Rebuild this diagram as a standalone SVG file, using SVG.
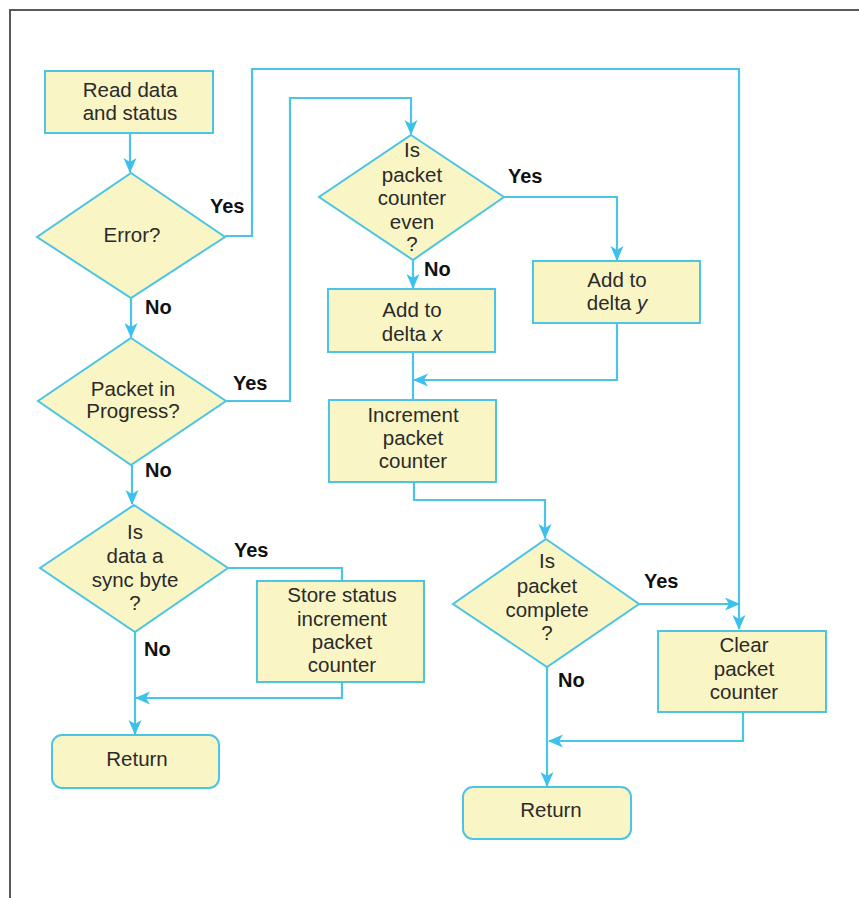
<svg xmlns="http://www.w3.org/2000/svg" width="859" height="898" viewBox="0 0 859 898">
<style>
.node{fill:#faf5c4;stroke:#4cc4e6;stroke-width:2}
.t{font-family:"Liberation Sans",Arial,sans-serif;font-size:20.5px;fill:#2a2a2a;text-anchor:middle}
.lbl{font-family:"Liberation Sans",Arial,sans-serif;font-size:20px;font-weight:bold;fill:#111}
.c{fill:none;stroke:#4cc4e6;stroke-width:2.2}
.frame{fill:none;stroke:#5a5a52;stroke-width:2}
</style>
<defs>
<marker id="arr" markerUnits="userSpaceOnUse" markerWidth="16" markerHeight="14" refX="14" refY="6.5" orient="auto">
<path d="M0,0 L15,6.5 L0,13 L4,6.5 z" fill="#3cc0ec"/>
</marker>
</defs>
<rect width="859" height="898" fill="#ffffff"/>
<path class="frame" d="M10,898 V10 H859"/>

<g id="connectors">
<path class="c" d="M130,133 V172" marker-end="url(#arr)"/>
<path class="c" d="M225,236 H252 V69 H739 V629" marker-end="url(#arr)"/>
<path class="c" d="M131,298 V337" marker-end="url(#arr)"/>
<path class="c" d="M226,401 H290 V98 H411 V134" marker-end="url(#arr)"/>
<path class="c" d="M132,465 V504" marker-end="url(#arr)"/>
<path class="c" d="M228,568 H342 V581"/>
<path class="c" d="M342,682 V698 H136" marker-end="url(#arr)"/>
<path class="c" d="M135,632 V734" marker-end="url(#arr)"/>
<path class="c" d="M504,197 H617 V260" marker-end="url(#arr)"/>
<path class="c" d="M413,260 V288" marker-end="url(#arr)"/>
<path class="c" d="M413,352 V400"/>
<path class="c" d="M617,323 V380 H414" marker-end="url(#arr)"/>
<path class="c" d="M414,482 V500 H545 V538" marker-end="url(#arr)"/>
<path class="c" d="M639,604 H739" marker-end="url(#arr)"/>
<path class="c" d="M743,712 V741 H549" marker-end="url(#arr)"/>
<path class="c" d="M547,667 V786" marker-end="url(#arr)"/>
</g>

<g id="read">
<rect class="node" x="45" y="71" width="168" height="62"/>
<text class="t" x="130" y="97">Read data</text>
<text class="t" x="130" y="120">and status</text>
</g>

<g id="error">
<polygon class="node" points="131,173 225,237 131,298 37,237"/>
<text class="t" x="132" y="242">Error?</text>
</g>

<g id="progress">
<polygon class="node" points="131,338 226,401 131,465 38,401"/>
<text class="t" x="133" y="396">Packet in</text>
<text class="t" x="133" y="418">Progress?</text>
</g>

<g id="sync">
<polygon class="node" points="134,505 228,568 135,632 40,568"/>
<text class="t" x="135" y="539">Is</text>
<text class="t" x="135" y="563">data a</text>
<text class="t" x="135" y="587">sync byte</text>
<text class="t" x="135" y="610">?</text>
</g>

<g id="store">
<rect class="node" x="257" y="581" width="167" height="101"/>
<text class="t" x="342" y="602">Store status</text>
<text class="t" x="342" y="626">increment</text>
<text class="t" x="342" y="649">packet</text>
<text class="t" x="342" y="672">counter</text>
</g>

<g id="return1">
<rect class="node" x="52" y="735" width="167" height="53" rx="10"/>
<text class="t" x="137" y="766">Return</text>
</g>

<g id="even">
<polygon class="node" points="411,135 504,197 413,260 319,197"/>
<text class="t" x="412" y="157">Is</text>
<text class="t" x="412" y="182">packet</text>
<text class="t" x="412" y="205">counter</text>
<text class="t" x="412" y="229">even</text>
<text class="t" x="412" y="251">?</text>
</g>

<g id="addy">
<rect class="node" x="533" y="261" width="167" height="62"/>
<text class="t" x="617" y="287">Add to</text>
<text class="t" x="617" y="310">delta <tspan font-style="italic">y</tspan></text>
</g>

<g id="addx">
<rect class="node" x="328" y="289" width="167" height="63"/>
<text class="t" x="412" y="317">Add to</text>
<text class="t" x="412" y="341">delta <tspan font-style="italic">x</tspan></text>
</g>

<g id="increment">
<rect class="node" x="329" y="400" width="167" height="82"/>
<text class="t" x="413" y="422">Increment</text>
<text class="t" x="413" y="445">packet</text>
<text class="t" x="413" y="468">counter</text>
</g>

<g id="complete">
<polygon class="node" points="546,539 639,604 547,667 453,604"/>
<text class="t" x="547" y="568">Is</text>
<text class="t" x="547" y="593">packet</text>
<text class="t" x="547" y="617">complete</text>
<text class="t" x="547" y="640">?</text>
</g>

<g id="clear">
<rect class="node" x="658" y="631" width="168" height="81"/>
<text class="t" x="744" y="652">Clear</text>
<text class="t" x="744" y="676">packet</text>
<text class="t" x="744" y="699">counter</text>
</g>

<g id="return2">
<rect class="node" x="463" y="787" width="168" height="52" rx="10"/>
<text class="t" x="551" y="817">Return</text>
</g>

<g id="labels">
<text class="lbl" x="210" y="213">Yes</text>
<text class="lbl" x="145" y="314">No</text>
<text class="lbl" x="233" y="390">Yes</text>
<text class="lbl" x="145" y="477">No</text>
<text class="lbl" x="234" y="557">Yes</text>
<text class="lbl" x="144" y="656">No</text>
<text class="lbl" x="508" y="183">Yes</text>
<text class="lbl" x="424" y="276">No</text>
<text class="lbl" x="644" y="588">Yes</text>
<text class="lbl" x="558" y="687">No</text>
</g>
</svg>
